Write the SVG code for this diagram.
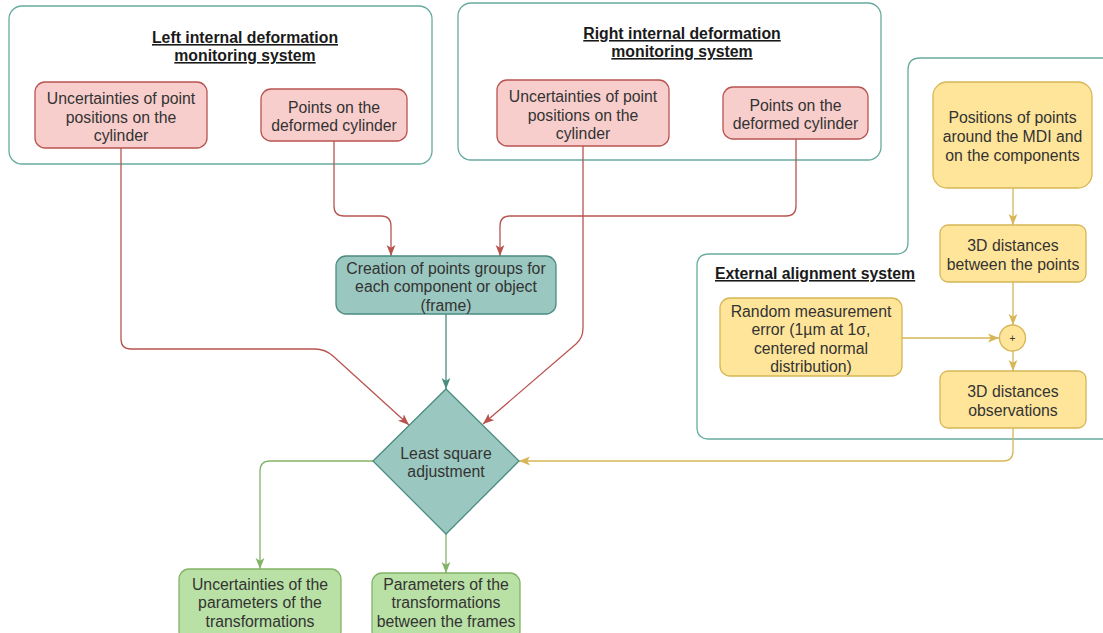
<svg xmlns="http://www.w3.org/2000/svg" width="1103" height="633" viewBox="0 0 1103 633">
<style>
text{font-family:"Liberation Sans",Arial,sans-serif;font-size:15.8px;fill:#333333;text-anchor:middle}
.t{font-weight:bold;text-decoration:underline;fill:#1a1a1a}
.cont{fill:#ffffff;stroke:#67AB9F;stroke-width:1.3}
.red{fill:#F8CECC;stroke:#B85450;stroke-width:1.3}
.teal{fill:#9AC7BF;stroke:#4A8C80;stroke-width:1.3}
.yel{fill:#FFE599;stroke:#D6B656;stroke-width:1.3}
.grn{fill:#B9E0A5;stroke:#82B366;stroke-width:1.3}
.c{fill:none;stroke-width:1.3}
.cr{stroke:#B85450}.ct{stroke:#4A8C80}.cy{stroke:#D6B656}.cg{stroke:#82B366}
</style>
<defs>
<marker id="ar" viewBox="0 0 10 10" refX="10" refY="5" markerWidth="11" markerHeight="11" markerUnits="userSpaceOnUse" orient="auto"><path d="M0,1 L10,5 L0,9 L2.5,5 z" fill="#B85450"/></marker>
<marker id="at" viewBox="0 0 10 10" refX="10" refY="5" markerWidth="11" markerHeight="11" markerUnits="userSpaceOnUse" orient="auto"><path d="M0,1 L10,5 L0,9 L2.5,5 z" fill="#4A8C80"/></marker>
<marker id="ay" viewBox="0 0 10 10" refX="10" refY="5" markerWidth="11" markerHeight="11" markerUnits="userSpaceOnUse" orient="auto"><path d="M0,1 L10,5 L0,9 L2.5,5 z" fill="#D6B656"/></marker>
<marker id="ag" viewBox="0 0 10 10" refX="10" refY="5" markerWidth="11" markerHeight="11" markerUnits="userSpaceOnUse" orient="auto"><path d="M0,1 L10,5 L0,9 L2.5,5 z" fill="#82B366"/></marker>
</defs>

<g id="left-system">
<rect class="cont" x="9" y="6" width="423" height="158" rx="13"/>
<text class="t" x="245" y="43">Left internal deformation</text>
<text class="t" x="245" y="61">monitoring system</text>
</g>
<g id="right-system">
<rect class="cont" x="458" y="3" width="423" height="157" rx="13"/>
<text class="t" x="682" y="39">Right internal deformation</text>
<text class="t" x="682" y="57">monitoring system</text>
</g>
<g id="external-system">
<path class="cont" d="M1104,58 H920 Q908,58 908,70 V242 Q908,254 896,254 H709 Q697,254 697,266 V427 Q697,439 709,439 H1104"/>
<text class="t" x="715" y="279" style="text-anchor:start">External alignment system</text>
</g>

<g id="connectors">
<path class="c cr" d="M121,148 V339 Q121,349 131,349 H315 Q325,349 333,356 L409,425" marker-end="url(#ar)"/>
<path class="c cr" d="M334,141 V206 Q334,216 344,216 H381 Q391,216 391,226 V256" marker-end="url(#ar)"/>
<path class="c cr" d="M796,139 V206 Q796,216 786,216 H510 Q500,216 500,226 V256" marker-end="url(#ar)"/>
<path class="c cr" d="M583,146 V328 Q583,338 576,344 L483,424" marker-end="url(#ar)"/>
<path class="c ct" d="M446,314 V389" marker-end="url(#at)"/>
<path class="c cy" d="M1013,188 V225" marker-end="url(#ay)"/>
<path class="c cy" d="M1013,282 V325" marker-end="url(#ay)"/>
<path class="c cy" d="M902,338 H999" marker-end="url(#ay)"/>
<path class="c cy" d="M1013,351 V371" marker-end="url(#ay)"/>
<path class="c cy" d="M1013,428 V451 Q1013,461 1003,461 H519" marker-end="url(#ay)"/>
<path class="c cg" d="M373,461 H270 Q260,461 260,471 V569" marker-end="url(#ag)"/>
<path class="c cg" d="M446,534 V573" marker-end="url(#ag)"/>
</g>

<g id="left-uncertainties">
<rect class="red" x="35" y="82" width="172" height="66" rx="10"/>
<text x="121" y="104">Uncertainties of point</text>
<text x="121" y="122.5">positions on the</text>
<text x="121" y="141">cylinder</text>
</g>
<g id="left-points">
<rect class="red" x="261" y="89" width="146" height="52" rx="10"/>
<text x="334" y="112.5">Points on the</text>
<text x="334" y="131">deformed cylinder</text>
</g>
<g id="right-uncertainties">
<rect class="red" x="497" y="80" width="172" height="66" rx="10"/>
<text x="583" y="102">Uncertainties of point</text>
<text x="583" y="120.5">positions on the</text>
<text x="583" y="139">cylinder</text>
</g>
<g id="right-points">
<rect class="red" x="723" y="87" width="145" height="52" rx="10"/>
<text x="795.5" y="110.5">Points on the</text>
<text x="795.5" y="129">deformed cylinder</text>
</g>
<g id="creation">
<rect class="teal" x="336" y="256" width="220" height="58" rx="10"/>
<text x="446" y="273.5">Creation of points groups for</text>
<text x="446" y="292">each component or object</text>
<text x="446" y="310.5">(frame)</text>
</g>
<g id="least-square">
<polygon class="teal" points="446,389 519,461 446,534 373,461"/>
<text x="446" y="458.5">Least square</text>
<text x="446" y="477">adjustment</text>
</g>
<g id="positions">
<rect class="yel" x="933" y="82" width="159" height="106" rx="14"/>
<text x="1012.5" y="122.5">Positions of points</text>
<text x="1012.5" y="141.5">around the MDI and</text>
<text x="1012.5" y="160.5">on the components</text>
</g>
<g id="distances">
<rect class="yel" x="940" y="225" width="146" height="57" rx="8"/>
<text x="1013" y="250.5">3D distances</text>
<text x="1013" y="269.5">between the points</text>
</g>
<g id="sum">
<circle class="yel" cx="1012.5" cy="338" r="13"/>
<text x="1012.5" y="341.5" style="font-size:10px">+</text>
</g>
<g id="random-error">
<rect class="yel" x="720" y="298" width="182" height="78" rx="10"/>
<text x="811" y="316.5">Random measurement</text>
<text x="811" y="335">error (1µm at 1σ,</text>
<text x="811" y="353.5">centered normal</text>
<text x="811" y="372">distribution)</text>
</g>
<g id="observations">
<rect class="yel" x="940" y="371" width="146" height="57" rx="8"/>
<text x="1013" y="396.5">3D distances</text>
<text x="1013" y="415.5">observations</text>
</g>
<g id="uncertainties-params">
<rect class="grn" x="179" y="569" width="162" height="72" rx="10"/>
<text x="260" y="589.5">Uncertainties of the</text>
<text x="260" y="608">parameters of the</text>
<text x="260" y="626.5">transformations</text>
</g>
<g id="params">
<rect class="grn" x="372" y="573" width="148" height="68" rx="10"/>
<text x="446" y="589.5">Parameters of the</text>
<text x="446" y="608">transformations</text>
<text x="446" y="626.5">between the frames</text>
</g>
</svg>
